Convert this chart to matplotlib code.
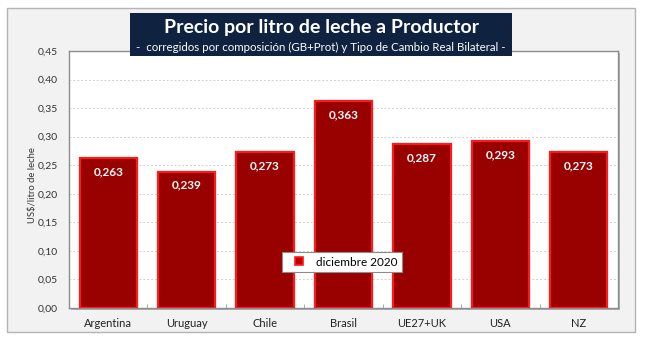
import matplotlib
matplotlib.use("Agg")
import matplotlib.pyplot as plt
from matplotlib.patches import Rectangle
from matplotlib.lines import Line2D
import numpy as np

categories = ["Argentina", "Uruguay", "Chile", "Brasil", "UE27+UK", "USA", "NZ"]
values = [0.263, 0.239, 0.273, 0.363, 0.287, 0.293, 0.273]
series_name = "diciembre 2020"
title = "Precio por litro de leche a Productor"
subtitle = "-  corregidos por composición (GB+Prot) y Tipo de Cambio Real Bilateral -"
ylabel = "US$/litro de leche"
yticks = [0.00, 0.05, 0.10, 0.15, 0.20, 0.25, 0.30, 0.35, 0.40, 0.45]

plt.rcParams['font.family'] = ['Lato', 'DejaVu Sans']

W, H = 650, 351
fig = plt.figure(figsize=(W / 100, H / 100), dpi=100)
fig.patch.set_facecolor("white")

def fx(px):
    return px / W

def fy(py):
    return 1 - py / H

# outer panel
fig.patches.append(Rectangle((fx(7), fy(332)), fx(628), (332 - 8) / H,
                             transform=fig.transFigure, facecolor="#f2f2f2",
                             edgecolor="#b4b4b4", linewidth=1.0, zorder=0))
# plot shadow
fig.patches.append(Rectangle((fx(71), fy(310)), fx(549), (308 - 51) / H,
                             transform=fig.transFigure, facecolor="#b0b0b0",
                             edgecolor="none", zorder=0.5))

ax = fig.add_axes([fx(69), fy(308), fx(618 - 69), (308 - 51) / H])
ax.set_zorder(1)
ax.set_facecolor("white")
x = np.arange(len(categories))
bars = ax.bar(x, values, width=0.73, color="#990000", edgecolor="#ff1a1a",
              linewidth=1.6, zorder=3, label=series_name)
for xi, v in zip(x, values):
    ax.text(xi, v - 0.024, f"{v:.3f}".replace(".", ","), ha="center", va="center",
            color="white", fontsize=8.5, fontweight="bold", zorder=4)

ax.set_xlim(-0.5, len(categories) - 0.5)
ax.set_ylim(0, 0.45)
ax.set_yticks(yticks)
ax.set_yticklabels([f"{t:.2f}".replace(".", ",") for t in yticks], fontsize=7.5, color="#333333")
ax.set_xticks(x)
ax.set_xticklabels(categories, fontsize=8, color="#222222")
ax.set_xticks(np.arange(-0.5, len(categories), 1.0), minor=True)
ax.tick_params(axis="x", which="both", direction="in", length=3, color="#999999", pad=7)
ax.tick_params(axis="y", length=0, pad=8)
ax.yaxis.grid(True, linestyle=(0, (2, 2)), color="#d0d0d0", linewidth=0.7, zorder=0)
ax.set_axisbelow(True)
for s in ax.spines.values():
    s.set_color("#8c8c8c")
    s.set_linewidth(1.0)

fig.text(fx(33), fy(185), ylabel, rotation=90, ha="center", va="center",
         fontsize=6.8, color="#333333")

handle = Line2D([0], [0], marker="s", linestyle="none", markersize=6,
                markerfacecolor="#c00000", markeredgecolor="#ff1a1a", markeredgewidth=1.2)
leg = ax.legend([handle], [series_name], loc="center",
                bbox_to_anchor=((342 - 69) / 549, (308 - 262) / 257),
                fontsize=8.5, frameon=True, fancybox=False, handletextpad=0.3,
                borderpad=0.35, handlelength=2.2, borderaxespad=0, framealpha=1)
leg.get_frame().set_edgecolor("#8c8c8c")
leg.get_frame().set_linewidth(0.8)
leg.set_zorder(5)

# title box
fig.patches.append(Rectangle((fx(130), fy(56)), fx(512 - 130), (56 - 13) / H,
                             transform=fig.transFigure, facecolor="#0f2340",
                             edgecolor="none", zorder=10))
fig.text(fx(321), fy(28), title, ha="center", va="center", color="white",
         fontsize=14, fontweight="bold", zorder=11)
fig.text(fx(321), fy(47), subtitle, ha="center", va="center", color="white",
         fontsize=8.3, zorder=11)

fig.savefig("out.png", dpi=100, facecolor=fig.get_facecolor())
